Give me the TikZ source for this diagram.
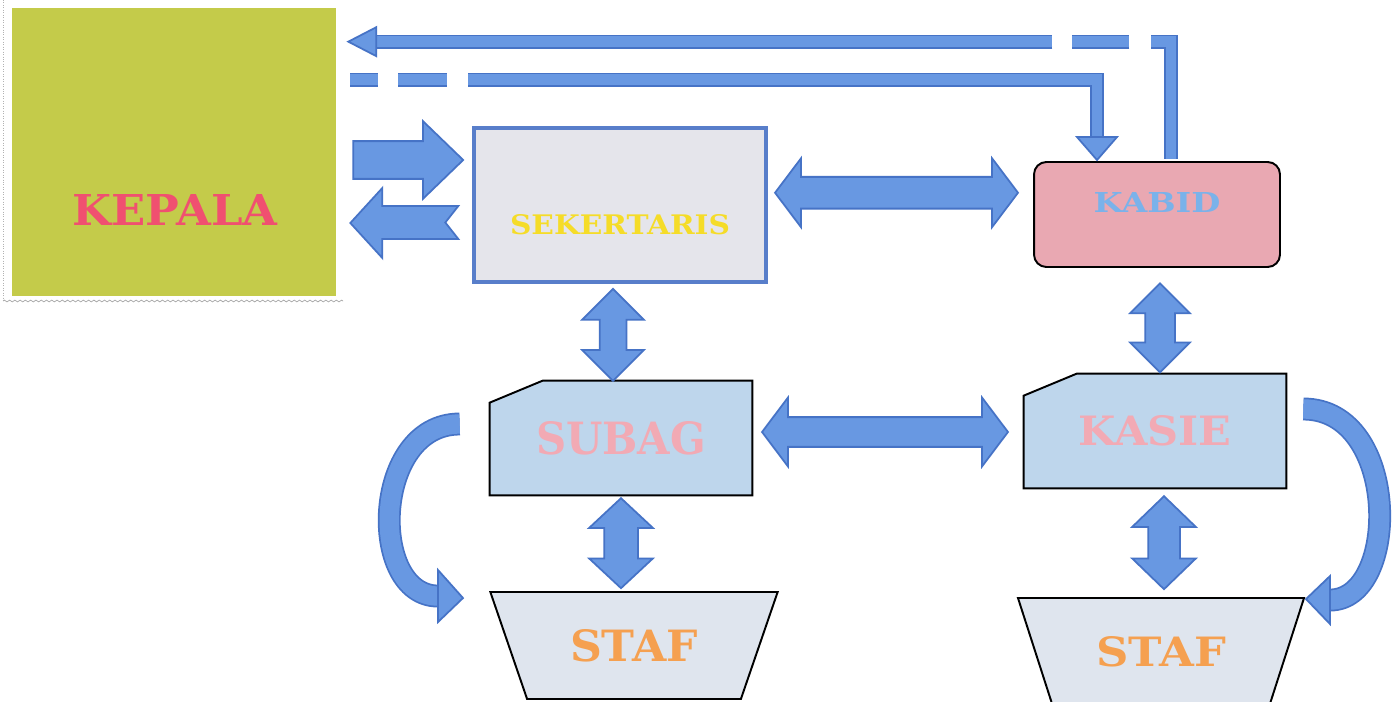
\documentclass[tikz,border=0pt]{standalone}
\usepackage{fontspec}
\setmainfont{DejaVu Serif}
\usepackage{graphicx}
\usepackage{xcolor}
\usepackage{tikz}
\usetikzlibrary{positioning,calc,backgrounds,shapes.geometric,shapes.arrows,decorations.pathmorphing}

\definecolor{kepalafill}{RGB}{196,203,74}
\definecolor{kepalaink}{RGB}{240,80,112}
\definecolor{sekfill}{RGB}{229,229,235}
\definecolor{sekline}{RGB}{88,126,202}
\definecolor{sekink}{RGB}{245,220,40}
\definecolor{kabidfill}{RGB}{233,168,178}
\definecolor{kabidink}{RGB}{122,178,234}
\definecolor{subagfill}{RGB}{190,214,236}
\definecolor{subagink}{RGB}{242,170,180}
\definecolor{staffill}{RGB}{223,229,238}
\definecolor{stafink}{RGB}{245,160,80}
\definecolor{arrowfill}{RGB}{104,152,226}
\definecolor{arrowline}{RGB}{70,115,198}

\newcommand{\boxname}[3]{\resizebox{#1}{#2}{\bfseries #3}}

\begin{document}
\begin{tikzpicture} [x=0.02cm, y=-0.02cm,
	outline/.style={draw=black, line width=1.1pt},
	boxtext/.style={inner sep=0pt},
	snipbox/.style={text=subagink, minimum width=5.24cm, minimum height=2.28cm, inner sep=0pt},
	stafbox/.style={outline, fill=staffill, text=stafink, trapezium, shape border rotate=180, trapezium left angle=56, trapezium right angle=56, trapezium stretches=true, minimum width=5.76cm, minimum height=2.14cm, inner sep=0pt},
	pipe/.style={draw=arrowline, fill=arrowfill, line width=1pt},
	pipeline/.style={draw=arrowline, line width=1pt, double=arrowfill},
	twoway/.style={pipe, double arrow, inner xsep=0pt}]
	\useasboundingbox (0,0) rectangle (1399,702);
	% scan frame
	\draw [gray!60, densely dotted] (3,0) -- (3,300);
	\draw [gray!70, decorate, decoration={zigzag, segment length=3pt, amplitude=0.5pt}] (3,301) -- (343,301);
	% boxes
	\node [fill=kepalafill, minimum width=6.48cm, minimum height=5.76cm] (kepala) at (174,152) {};
	\node [boxtext, text=kepalaink] (kepalaname) at ($(kepala.center)+(1,58)$) {\boxname{4.1cm}{0.62cm}{KEPALA}};
	\node [fill=sekfill, draw=sekline, line width=2.3pt, minimum width=5.84cm, minimum height=3.08cm] (sek) at (620,205) {};
	\node [boxtext, text=sekink] (sekname) at ($(sek.center)+(0,20)$) {\boxname{4.4cm}{0.4cm}{SEKERTARIS}};
	\node [outline, fill=kabidfill, rounded corners=7pt, minimum width=4.92cm, minimum height=2.1cm] (kabid) at (1157,214.5) {};
	\node [boxtext, text=kabidink] (kabidname) at ($(kabid.center)+(0,-12)$) {\boxname{2.54cm}{0.4cm}{KABID}};
	\node [snipbox] (subag) at (621,438) {\boxname{3.4cm}{0.66cm}{SUBAG}};
	\node [snipbox] (kasie) at (1155,431) {\boxname{3.06cm}{0.6cm}{KASIE}};
	\node [stafbox] (stafa) at (634,645.5) {\boxname{2.56cm}{0.64cm}{STAF}};
	\node [stafbox] (stafb) at (1161,651.5) {\boxname{2.6cm}{0.6cm}{STAF}};
	\begin{scope} [on background layer]
		\fill [white] (0,0) rectangle (1399,702);
		\foreach \snip in {subag, kasie}
			\filldraw [outline, fill=subagfill] ($(\snip.north west)+(0,22)$) -- ($(\snip.north west)+(53,0)$) -- (\snip.north east) -- (\snip.south east) -- (\snip.south west) -- cycle;
	\end{scope}
	% straight arrows
	\node [pipe, single arrow, single arrow head extend=0.4cm, single arrow tip angle=88, minimum height=2.2cm, inner xsep=0pt, inner ysep=0.36cm, anchor=tail] (toSek) at ($(kepala.east)+(16,8)$) {};
	\coordinate (backtip) at ($(kepala.east)+(14,71)$);
	\filldraw [pipe] (backtip) -- ++(32,-35) -- ++(0,18) -- ++(76,0) -- ++(-13,16.5) -- ++(13,16.5) -- ++(-76,0) -- ++(0,19) -- cycle;
	\node [twoway, double arrow head extend=0.37cm, double arrow tip angle=106, minimum height=4.86cm, inner ysep=0.3cm] (sekKabid) at ($(sek.east)!0.5!(kabid.west)+(-4,-17)$) {};
	\node [twoway, double arrow head extend=0.39cm, double arrow tip angle=106, minimum height=4.92cm, inner ysep=0.28cm] (subagKasie) at ($(subag.east)!0.5!(kasie.west)+(-3,-2.5)$) {};
	\node [twoway, rotate=90, double arrow head extend=0.35cm, double arrow tip angle=90, minimum height=1.84cm, inner ysep=0.25cm] (sekSubag) at ($(sek.south)!0.5!(subag.north)+(-7.5,2.5)$) {};
	\node [twoway, rotate=90, double arrow head extend=0.3cm, double arrow tip angle=90, minimum height=1.78cm, inner ysep=0.28cm] (kabidKasie) at ($(kabid.south)!0.5!(kasie.north)+(4,7)$) {};
	\node [twoway, rotate=90, double arrow head extend=0.3cm, double arrow tip angle=94, minimum height=1.8cm, inner ysep=0.32cm] (subagStaf) at ($(subag.south)!0.5!(stafa.north)+(-6.5,0)$) {};
	\node [twoway, rotate=90, double arrow head extend=0.32cm, double arrow tip angle=92, minimum height=1.86cm, inner ysep=0.3cm] (kasieStaf) at ($(kasie.south)!0.5!(stafb.north)+(6,0)$) {};
	% elbow arrows along the top
	\coordinate (upstart) at ($(kabid.north)+(14,-2)$);
	\coordinate (upend) at ($(kepala.north east)+(12,34)$);
	\draw [pipeline, double distance=6pt, dash pattern=on 78pt off 12.5pt on 32.4pt off 11.4pt on 600pt] (upstart) |- ($(upend)+(28,0)$);
	\filldraw [pipe] (upend) -- ++(28,-14.5) -- ++(0,29) -- cycle;
	\coordinate (downstart) at ($(kepala.north east)+(14,72)$);
	\coordinate (downend) at ($(kabid.north)+(-60,-1)$);
	\draw [pipeline, double distance=6pt, dash pattern=on 15.9pt off 11.4pt on 27.9pt off 11.9pt on 700pt] (downstart) -| ($(downend)+(0,-23)$);
	\filldraw [pipe] (downend) -- ++(-20,-23) -- ++(40,0) -- cycle;
	% curved arrows
	\coordinate (leftstart) at ($(subag.west)+(-30,-14)$);
	\coordinate (leftend) at ($(stafa.north)+(-196,5)$);
	\coordinate (lefttip) at ($(stafa.north)+(-171,7)$);
	\draw [pipeline, double distance=11pt] (leftstart) .. controls +(-88,0) and +(-70,0) .. (leftend);
	\filldraw [pipe] ($(leftend)+(0,-26)$) -- (lefttip) -- ($(leftend)+(0,26)$) -- cycle;
	\coordinate (rightstart) at ($(kasie.east)+(17,-22)$);
	\coordinate (rightend) at ($(stafb.north)+(169,3)$);
	\coordinate (righttip) at ($(stafb.north)+(145,2)$);
	\draw [pipeline, double distance=11pt] (rightstart) .. controls +(97,0) and +(70,0) .. (rightend);
	\filldraw [pipe] ($(rightend)+(0,-24)$) -- (righttip) -- ($(rightend)+(0,24)$) -- cycle;
\end{tikzpicture}
\end{document}
